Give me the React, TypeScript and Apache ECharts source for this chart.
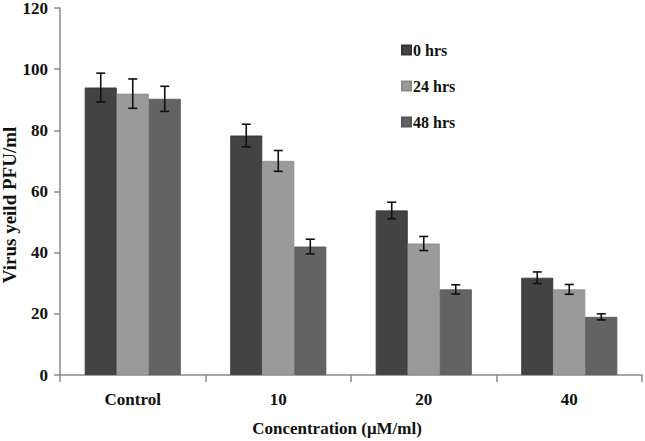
import React, { useEffect, useRef } from "react";
import * as echarts from "echarts";

const categories = ["Control", "10", "20", "40"];
const seriesNames = ["0 hrs", "24 hrs", "48 hrs"];
const values0 = [94, 78.3, 53.8, 31.8];
const values24 = [92, 70, 43, 28];
const values48 = [90.3, 42, 28, 19];
const errors0 = [4.7, 3.7, 2.7, 1.9];
const errors24 = [4.8, 3.4, 2.3, 1.6];
const errors48 = [4.1, 2.4, 1.5, 1];
const yTitle = "Virus yeild PFU/ml";
const xTitle = "Concentration (μM/ml)";
const colors = ["#434343", "#9a9a9a", "#636363"];
const borderColors = ["#353535", "#8c8c8c", "#555555"];

const BAR_CATEGORY_GAP = 0.34;
const FONT = "'Liberation Serif', 'Times New Roman', serif";

export default function App() {
  const ref = useRef<HTMLDivElement>(null);

  useEffect(() => {
    if (!ref.current) return;
    const chart = echarts.init(ref.current, null, { renderer: "svg" });
    const valueSets = [values0, values24, values48];
    const errorSets = [errors0, errors24, errors48];

    const barSeries = seriesNames.map((name, i) => ({
      name,
      type: "bar",
      data: valueSets[i],
      barGap: "0%",
      barCategoryGap: "34%",
      itemStyle: { color: colors[i], borderColor: borderColors[i], borderWidth: 0.8 },
    }));

    const errSeries = seriesNames.map((name, i) => ({
      name: name + " err",
      type: "custom",
      z: 10,
      data: categories.map((_, c) => [c, valueSets[i][c], errorSets[i][c]]),
      encode: { x: 0, y: 1 },
      renderItem: (params: any, api: any) => {
        const c = api.value(0);
        const v = api.value(1);
        const e = api.value(2);
        const band = api.size([1, 0])[0];
        const bw = (band * (1 - BAR_CATEGORY_GAP)) / 3;
        const center = api.coord([c, v]);
        const x = center[0] + (i - 1) * bw;
        const top = api.coord([c, v + e])[1];
        const bot = api.coord([c, v - e])[1];
        const half = 4.5;
        const style = { stroke: "#111", lineWidth: 1.6 };
        return {
          type: "group",
          children: [
            { type: "line", shape: { x1: x, y1: top, x2: x, y2: bot }, style },
            { type: "line", shape: { x1: x - half, y1: top, x2: x + half, y2: top }, style },
            { type: "line", shape: { x1: x - half, y1: bot, x2: x + half, y2: bot }, style },
          ],
        };
      },
    }));

    chart.setOption({
      animation: false,
      backgroundColor: "#ffffff",
      textStyle: { fontFamily: FONT },
      grid: { left: 60, right: 3, top: 8, bottom: 66, containLabel: false, outerBoundsMode: "none" },
      graphic: [
        {
          type: "text",
          x: 9,
          y: 205,
          rotation: Math.PI / 2,
          style: {
            text: yTitle,
            fill: "#111",
            font: `bold 19px ${FONT}`,
            textAlign: "center",
            textVerticalAlign: "middle",
          },
        },
      ],
      legend: {
        data: seriesNames,
        orient: "vertical",
        left: 396,
        top: 37,
        itemWidth: 9,
        itemHeight: 9,
        itemGap: 20,
        icon: "rect",
        textStyle: {
          fontFamily: FONT,
          fontWeight: "bold",
          fontSize: 16,
          lineHeight: 16,
          color: "#111",
          padding: [0, 0, 0, -3],
        },
      },
      xAxis: {
        type: "category",
        data: categories,
        axisLine: { lineStyle: { color: "#8a8a8a", width: 1.5 } },
        axisTick: { show: true, alignWithLabel: false, length: 7, lineStyle: { color: "#8a8a8a", width: 1.5 } },
        axisLabel: { fontFamily: FONT, fontWeight: "bold", fontSize: 17, color: "#111", margin: 16 },
        name: xTitle,
        nameLocation: "middle",
        nameGap: 45,
        nameTextStyle: { fontFamily: FONT, fontWeight: "bold", fontSize: 17, color: "#111", padding: [0, 28, 0, 0] },
      },
      yAxis: {
        type: "value",
        min: 0,
        max: 120,
        interval: 20,
        splitLine: { show: false },
        axisLine: { show: true, lineStyle: { color: "#8a8a8a", width: 1.5 } },
        axisTick: { show: true, length: 6, lineStyle: { color: "#8a8a8a", width: 1.5 } },
        axisLabel: { fontFamily: FONT, fontWeight: "bold", fontSize: 17, lineHeight: 14, color: "#111", margin: 12 },
      },
      series: [...barSeries, ...errSeries],
    });

    return () => chart.dispose();
  }, []);

  return <div ref={ref} style={{ width: 645, height: 441, position: "absolute", left: 0, top: 0 }} />;
}
